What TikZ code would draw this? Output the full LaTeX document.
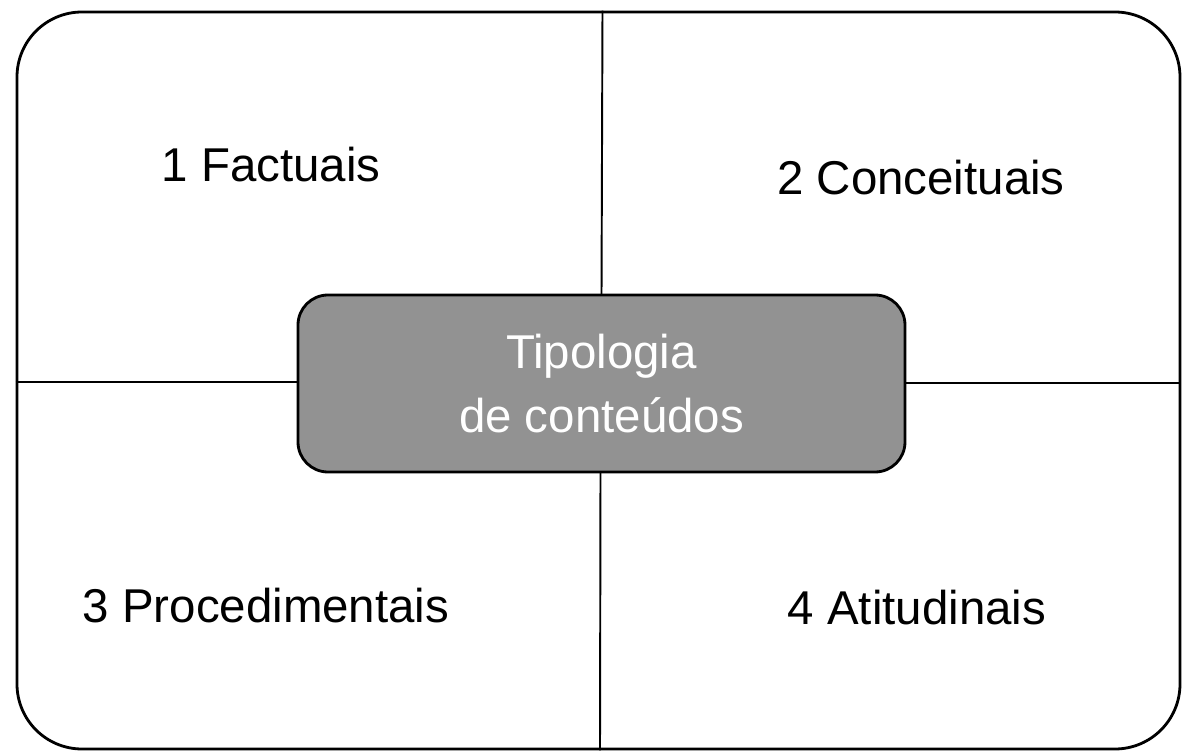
\documentclass[tikz,border=0pt]{standalone}
\usepackage{fontspec}
\setmainfont{Liberation Sans}
\usetikzlibrary{positioning}
\definecolor{boxgray}{RGB}{146,146,146}
\newcommand{\labelsize}{\fontsize{27}{33}\selectfont}
\tikzset{
    frame/.style={draw, rectangle, rounded corners=1.3cm, line width=1.6pt, minimum width=23.26cm, minimum height=14.74cm},
    core/.style={draw, rectangle, rounded corners=0.6cm, line width=1.6pt, fill=boxgray, text=white, align=center, minimum width=12.14cm, minimum height=3.54cm, font=\labelsize},
    kind/.style={font=\labelsize},
    divider/.style={line width=1.1pt}
}
\begin{document}
\begin{tikzpicture}
            \useasboundingbox (0,0) rectangle (23.66,-15.1);

            \node[frame] (outer) at (11.97,-7.61) {};

            \draw[divider] (outer.north -| 12.05,0) -- (12.03,-5.9) coordinate (topcut);
            \draw[divider] (12.01,-9.44) coordinate (botcut) -- (outer.south -| 12.0,0);
            \draw[divider] (outer.west |- 0,-7.64) -- (5.96,-7.64);
            \draw[divider] (18.1,-7.66) -- (outer.east |- 0,-7.66);

            \node[core] (topic) at (12.03,-7.67) {\raisebox{-0.08cm}{Tipologia}\\[0.12cm]\raisebox{-0.08cm}{de conteúdos}};

            \node[kind] (factual) at (5.42,-3.3) {1 Factuais};
            \node[kind] (concept) at (18.42,-3.56) {2 Conceituais};
            \node[kind] (proced) at (5.32,-12.12) {3 Procedimentais};
            \node[kind] (attitude) at (18.34,-12.16) {4 Atitudinais};
        \end{tikzpicture}
\end{document}
